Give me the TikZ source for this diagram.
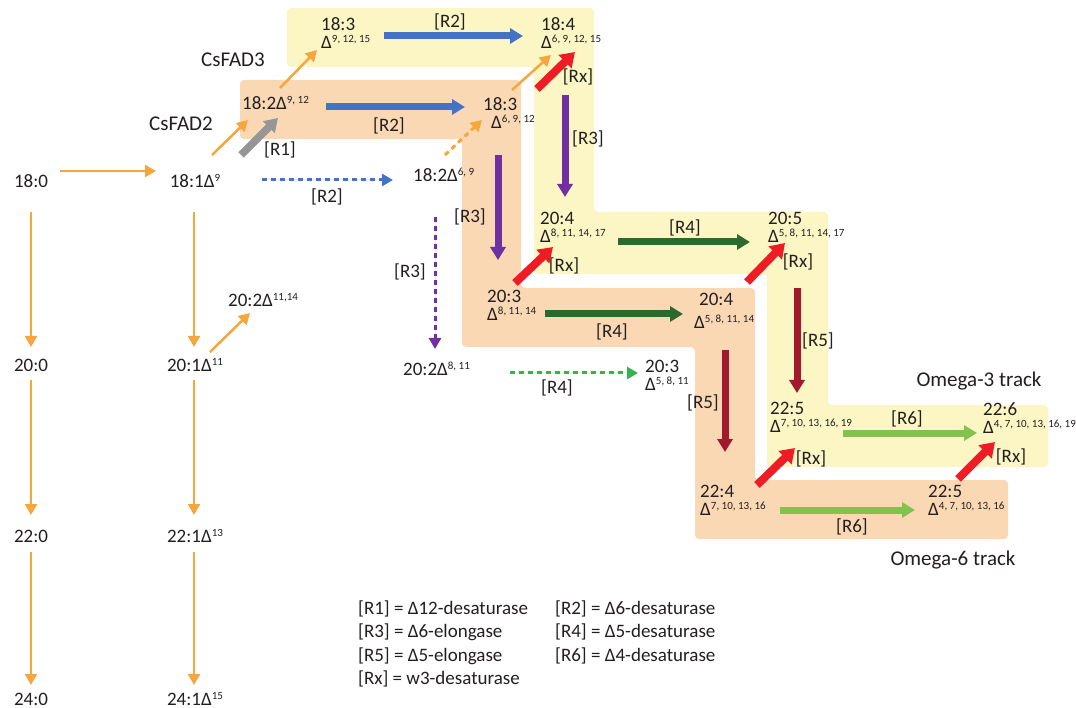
\documentclass[tikz,border=0pt]{standalone}
\usepackage{fontspec}
\setmainfont{Carlito}
\usetikzlibrary{arrows.meta}

\definecolor{bandyel}{RGB}{251,246,196}
\definecolor{bandora}{RGB}{250,216,180}
\definecolor{txt}{RGB}{35,31,32}
\definecolor{arrora}{RGB}{245,166,60}
\definecolor{arrblue}{RGB}{68,114,196}
\definecolor{arrpur}{RGB}{112,48,160}
\definecolor{arrdkg}{RGB}{45,105,45}
\definecolor{arrdkr}{RGB}{160,25,45}
\definecolor{arrlg}{RGB}{130,195,80}
\definecolor{arrred}{RGB}{238,28,37}
\definecolor{arrgrey}{RGB}{150,150,150}
\definecolor{arrgdot}{RGB}{50,180,80}

\newcommand{\dsp}[1]{\raisebox{6pt}{\fontsize{11}{11}\selectfont #1}}
\newcommand{\dlt}[1]{Δ\dsp{#1}}

\begin{document}
\begin{tikzpicture}[x=1pt, y=-1pt,
	lbl/.style={font=\fontsize{19}{18}\selectfont, text=txt, inner sep=0pt},
	fa/.style={lbl, anchor=north west, align=left},
	big/.style={font=\fontsize{21}{24}\selectfont, text=txt, inner sep=0pt},
	oarr/.style={draw=arrora, line width=2.5pt, -{Triangle[width=12pt,length=11pt]}},
	fat/.style={line width=7pt, -{Triangle[width=15pt,length=13pt]}},
	barr/.style={fat, draw=arrblue},
	parr/.style={fat, draw=arrpur},
	garr/.style={fat, draw=arrdkg},
	drarr/.style={fat, draw=arrdkr},
	lgarr/.style={fat, draw=arrlg},
	grarr/.style={draw=arrgrey, line width=7.5pt, -{Triangle[width=16pt,length=13pt]}},
	xarr/.style={draw=arrred, line width=8pt, -{Triangle[width=18pt,length=14pt]}},
	dots/.style={line width=3pt, dash pattern=on 5pt off 4pt, -{Triangle[width=12pt,length=11pt]}}
	]
	% Fondo
	\fill[white] (0,0) rectangle (1076,708);
	\useasboundingbox (0,0) rectangle (1076,708);
	
	% Bande omega-3 e omega-6
	\fill[bandyel, rounded corners=4pt] (287,8) -- (594,8) -- (594,212) -- (828,212) -- (828,405) -- (1048,405)
		-- (1048,467) -- (767,467) -- (767,274) -- (534,274) -- (534,67) -- (287,67) -- cycle;
	\fill[bandora, rounded corners=4pt] (240,80) -- (521,80) -- (521,288) -- (755,288) -- (755,480) -- (1008,480)
		-- (1008,539) -- (695,539) -- (695,347) -- (462,347) -- (462,139) -- (240,139) -- cycle;
	
	% Colonne a sinistra
	\node[lbl, anchor=base] (n180) at (31,188) {18:0};
	\node[lbl, anchor=base] (n181) at (195,188) {18:1\dlt{9}};
	\node[lbl, anchor=base] (n200) at (31,372) {20:0};
	\node[lbl, anchor=base] (n201) at (195,372) {20:1\dlt{11}};
	\node[lbl, anchor=base west] (n202) at (228,307) {20:2\dlt{11,14}};
	\node[lbl, anchor=base] (n220) at (31,542) {22:0};
	\node[lbl, anchor=base] (n221) at (195,542) {22:1\dlt{13}};
	\node[lbl, anchor=base] (n240) at (31,705) {24:0};
	\node[lbl, anchor=base] (n241) at (195,705) {24:1\dlt{15}};
	
	% Acidi grassi
	\node[fa] (t183) at (321,17) {18:3\\\dlt{9, 12, 15}};
	\node[fa] (t184) at (541,17) {18:4\\\dlt{6, 9, 12, 15}};
	\node[lbl, anchor=base west] (n182) at (242,110) {18:2\dlt{9, 12}};
	\node[fa] (m183) at (483,97) {18:3\\\hspace*{8pt}\dlt{6, 9, 12}};
	\node[lbl, anchor=base west] (n1869) at (413,182) {18:2\dlt{6, 9}};
	\node[fa] (u204) at (540,212) {20:4\\\dlt{8, 11, 14, 17}};
	\node[fa] (l203) at (487,290) {20:3\\\dlt{8, 11, 14}};
	\node[fa] (u205) at (768,212) {20:5\\\dlt{5, 8, 11, 14, 17}};
	\node[fa] (l204) at (694,293) {\hspace*{5pt}20:4\\[5pt]\dlt{5, 8, 11, 14}};
	\node[lbl, anchor=base west] (n2011) at (403,376) {20:2\dlt{8, 11}};
	\node[fa] (l2058) at (645,360) {20:3\\\dlt{5, 8, 11}};
	\node[fa] (u225) at (770,402) {22:5\\\dlt{7, 10, 13, 16, 19}};
	\node[fa] (u226) at (983,402) {22:6\\\dlt{4, 7, 10, 13, 16, 19}};
	\node[fa] (l224) at (700,485) {22:4\\\dlt{7, 10, 13, 16}};
	\node[fa] (l225) at (928,485) {22:5\\\dlt{4, 7, 10, 13, 16}};
	
	% Etichette
	\node[big] (fad2) at (181,124) {CsFAD2};
	\node[big] (fad3) at (233,60) {CsFAD3};
	\node[lbl] (r2top) at (450,22) {[R2]};
	\node[lbl] (r2mid) at (389,126) {[R2]};
	\node[lbl] (r1) at (280,150) {[R1]};
	\node[lbl] (rx1) at (578,77) {[Rx]};
	\node[lbl] (r3a) at (588,139) {[R3]};
	\node[lbl] (r2dot) at (327,197) {[R2]};
	\node[lbl] (r3b) at (470,217) {[R3]};
	\node[lbl] (r3dot) at (410,272) {[R3]};
	\node[lbl] (r4top) at (685,228) {[R4]};
	\node[lbl] (rx2) at (564,266) {[Rx]};
	\node[lbl] (r4mid) at (612,332) {[R4]};
	\node[lbl] (r4dot) at (557,388) {[R4]};
	\node[lbl] (rx3) at (798,262) {[Rx]};
	\node[lbl] (r5a) at (818,341) {[R5]};
	\node[lbl] (r5b) at (703,403) {[R5]};
	\node[lbl] (r6top) at (907,419) {[R6]};
	\node[lbl] (rx4) at (811,459) {[Rx]};
	\node[lbl] (rx5) at (1011,457) {[Rx]};
	\node[lbl] (r6bot) at (852,527) {[R6]};
	\node[big, anchor=base] (om3) at (979,387) {Omega-3 track};
	\node[big, anchor=base] (om6) at (953,565) {Omega-6 track};
	
	% Legenda
	\node[lbl, anchor=base west] (leg1) at (358,614) {[R1] = Δ12-desaturase};
	\node[lbl, anchor=base west] (leg2) at (555,614) {[R2] = Δ6-desaturase};
	\node[lbl, anchor=base west] (leg3) at (358,637) {[R3] = Δ6-elongase};
	\node[lbl, anchor=base west] (leg4) at (555,637) {[R4] = Δ5-desaturase};
	\node[lbl, anchor=base west] (leg5) at (358,661) {[R5] = Δ5-elongase};
	\node[lbl, anchor=base west] (leg6) at (555,661) {[R6] = Δ4-desaturase};
	\node[lbl, anchor=base west] (legx) at (358,684) {[Rx] = w3-desaturase};
	
	% Frecce arancioni
	\draw[oarr] ([shift={(29,-17)}]n180.base) -- ([shift={(-39,-17)}]n181.base);
	\draw[oarr] ([shift={(0,24)}]n180.base) -- ([shift={(0,-25)}]n200.base);
	\draw[oarr] ([shift={(0,8)}]n200.base) -- ([shift={(0,-27)}]n220.base);
	\draw[oarr] ([shift={(0,10)}]n220.base) -- ([shift={(0,-20)}]n240.base);
	\draw[oarr] ([shift={(-1,24)}]n181.base) -- ([shift={(-1,-25)}]n201.base);
	\draw[oarr] ([shift={(-1,8)}]n201.base) -- ([shift={(-1,-27)}]n221.base);
	\draw[oarr] ([shift={(-1,10)}]n221.base) -- ([shift={(-1,-20)}]n241.base);
	\draw[oarr] ([shift={(15,-20)}]n201.base) -- ([shift={(22,6)}]n202.base west);
	\draw[oarr] ([shift={(17,-33)}]n181.base) -- ([shift={(6,10)}]n182.base west);
	\draw[oarr] ([shift={(38,-22)}]n182.base west) -- ([shift={(-4,33)}]t183.north west);
	\draw[oarr] ([shift={(29,-7)}]m183.north west) -- ([shift={(10,38)}]t184.north west);
	
	% Frecce spesse
	\draw[grarr] ([shift={(46,-33)}]n181.base) -- ([shift={(36,8)}]n182.base west);
	\draw[barr] ([shift={(63,19)}]t183.north west) -- ([shift={(-18,19)}]t184.north west);
	\draw[barr] ([shift={(84,-3)}]n182.base west) -- ([shift={(-18,10)}]m183.north west);
	\draw[parr] ([shift={(24,78)}]t184.north west) -- ([shift={(25,-15)}]u204.north west);
	\draw[parr] ([shift={(15,58)}]m183.north west) -- ([shift={(11,-30)}]l203.north west);
	\draw[garr] ([shift={(58,24)}]l203.north west) -- ([shift={(-11,21)}]l204.north west);
	\draw[garr] ([shift={(78,30)}]u204.north west) -- ([shift={(-18,30)}]u205.north west);
	\draw[drarr] ([shift={(29,76)}]u205.north west) -- ([shift={(27,-9)}]u225.north west);
	\draw[drarr] ([shift={(31,57)}]l204.north west) -- ([shift={(25,-33)}]l224.north west);
	\draw[lgarr] ([shift={(73,31)}]u225.north west) -- ([shift={(-6,31)}]u226.north west);
	\draw[lgarr] ([shift={(80,25)}]l224.north west) -- ([shift={(-13,25)}]l225.north west);
	
	% Frecce rosse [Rx]
	\draw[xarr] ([shift={(54,-8)}]m183.north west) -- ([shift={(34,35)}]t184.north west);
	\draw[xarr] ([shift={(28,-7)}]l203.north west) -- ([shift={(13,35)}]u204.north west);
	\draw[xarr] ([shift={(53,-11)}]l204.north west) -- ([shift={(17,31)}]u205.north west);
	\draw[xarr] ([shift={(57,0)}]l224.north west) -- ([shift={(25,46)}]u225.north west);
	\draw[xarr] ([shift={(30,-6)}]l225.north west) -- ([shift={(12,40)}]u226.north west);
	
	% Frecce tratteggiate
	\draw[dots, draw=arrblue, fill=arrblue] ([shift={(67,-8)}]n181.base) -- ([shift={(-20,-2)}]n1869.base west);
	\draw[dots, draw=arrora, fill=arrora] ([shift={(32,-27)}]n1869.base west) -- ([shift={(-1,23)}]m183.north west);
	\draw[dots, draw=arrpur, fill=arrpur] ([shift={(22,35)}]n1869.base west) -- ([shift={(32,-27)}]n2011.base west);
	\draw[dots, draw=arrgdot, fill=arrgdot] ([shift={(107,-3)}]n2011.base west) -- ([shift={(-7,13)}]l2058.north west);
\end{tikzpicture}
\end{document}
